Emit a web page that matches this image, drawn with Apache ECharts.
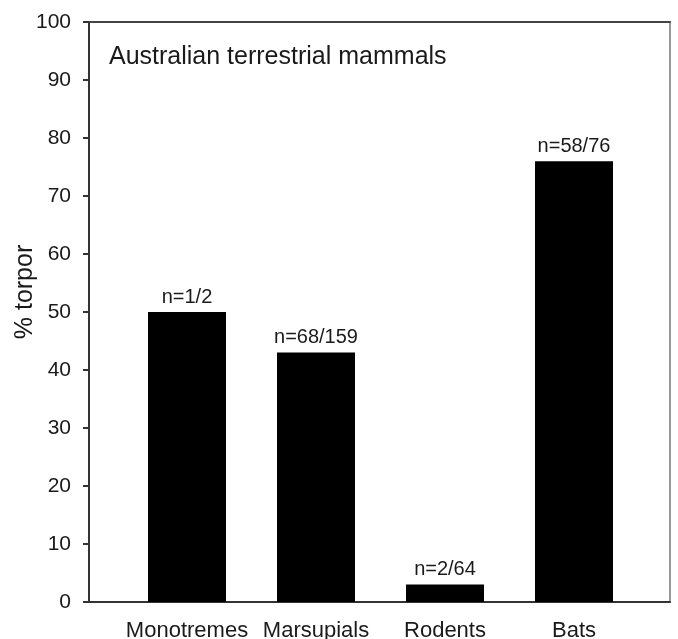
<!DOCTYPE html>
<html>
<head>
<meta charset="utf-8">
<script src="https://cdn.jsdelivr.net/npm/echarts@6/dist/echarts.min.js"></script>
<style>html,body{margin:0;padding:0;background:#fff}#c{width:678px;height:639px}</style>
</head>
<body>
<div id="c"></div>
<script>
const categories = ['Monotremes', 'Marsupials', 'Rodents', 'Bats'];
const torporPercent = [50, 43, 3, 76];
const sampleLabels = ['n=1/2', 'n=68/159', 'n=2/64', 'n=58/76'];
const yTicks = [0, 10, 20, 30, 40, 50, 60, 70, 80, 90, 100];

const F = '"Liberation Sans", Arial, sans-serif';
const chart = echarts.init(document.getElementById('c'));
chart.setOption({
  animation: false,
  backgroundColor: '#fff',
  title: {
    text: 'Australian terrestrial mammals',
    left: 104, top: 40,
    textStyle: { fontFamily: F, fontSize: 25, fontWeight: 'normal', color: '#1a1a1a' }
  },
  grid: [
    { left: 89, right: 8, top: 22, bottom: 37, containLabel: false, outerBoundsMode: 'none' },
    { left: 122.5, right: 39.5, top: 22, bottom: 37, containLabel: false, outerBoundsMode: 'none' }
  ],
  xAxis: [
    { gridIndex: 0, type: 'value', min: 0, max: 1, position: 'bottom',
      axisLine: { show: true, onZero: false, lineStyle: { color: '#333', width: 2 } },
      axisTick: { show: false }, axisLabel: { show: false }, splitLine: { show: false } },
    { gridIndex: 0, type: 'value', min: 0, max: 1, position: 'top',
      axisLine: { show: true, onZero: false, lineStyle: { color: '#444', width: 2 } },
      axisTick: { show: false }, axisLabel: { show: false }, splitLine: { show: false } },
    { gridIndex: 1, type: 'category', data: categories,
      axisLine: { show: false }, axisTick: { show: false },
      axisLabel: { interval: 0, margin: 18, fontFamily: F, fontSize: 22, color: '#1a1a1a' } }
  ],
  yAxis: [
    { gridIndex: 0, type: 'value', min: 0, max: 100, interval: 10, position: 'left',
      name: '% torpor', nameLocation: 'middle', nameGap: 51, nameMoveOverlap: false,
      nameTextStyle: { fontFamily: F, fontSize: 25, color: '#1a1a1a', padding: [0, 0, 0, 40] },
      axisLine: { show: true, onZero: false, lineStyle: { color: '#333', width: 2 } },
      axisTick: { show: true, inside: false, length: 6, lineStyle: { color: '#333', width: 2 } },
      axisLabel: { margin: 18, fontFamily: F, fontSize: 21, color: '#1a1a1a',
        formatter: v => yTicks.includes(v) ? String(v) : '' },
      splitLine: { show: false } },
    { gridIndex: 0, type: 'value', min: 0, max: 100, position: 'right',
      axisLine: { show: true, onZero: false, lineStyle: { color: '#999', width: 2 } },
      axisTick: { show: false }, axisLabel: { show: false }, splitLine: { show: false } },
    { gridIndex: 1, type: 'value', min: 0, max: 100, show: false }
  ],
  series: [{
    type: 'bar',
    xAxisIndex: 2, yAxisIndex: 2,
    data: torporPercent,
    barWidth: 78,
    itemStyle: { color: '#000' },
    label: {
      show: true, position: 'top', distance: 5,
      fontFamily: F, fontSize: 20, color: '#1a1a1a',
      formatter: p => sampleLabels[p.dataIndex]
    }
  }]
});
</script>
</body>
</html>
